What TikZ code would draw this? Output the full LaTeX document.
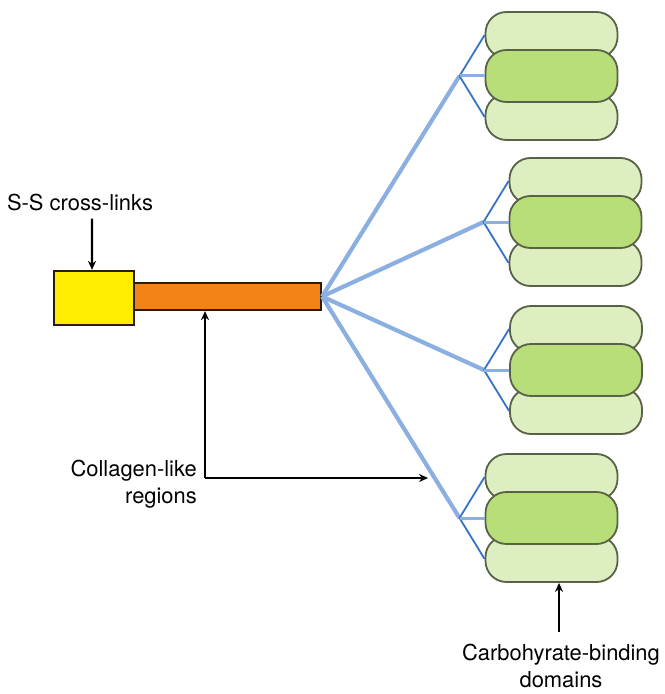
\documentclass[tikz,border=0pt]{standalone}
\usepackage{fontspec}
\setmainfont{TeX Gyre Heros}
\usetikzlibrary{arrows.meta,positioning}
\definecolor{ssyellow}{RGB}{255,236,0}
\definecolor{colorange}{RGB}{242,131,22}
\definecolor{boxrim}{RGB}{40,30,15}
\definecolor{pilllight}{RGB}{221,238,192}
\definecolor{pilldark}{RGB}{184,222,122}
\definecolor{pillrim}{RGB}{88,98,70}
\definecolor{stalkblue}{RGB}{140,175,225}
\definecolor{branchblue}{RGB}{55,115,195}

\begin{document}
\begin{tikzpicture}[
  x=1bp, y=-1bp,
  lbl/.style={font=\fontsize{22}{27}\selectfont, inner sep=0pt, align=center},
  ssbox/.style={draw=boxrim, line width=2.2bp, fill=ssyellow, minimum width=80bp, minimum height=54bp, inner sep=0pt},
  barbox/.style={draw=boxrim, line width=2.2bp, fill=colorange, minimum width=187bp, minimum height=27bp, inner sep=0pt},
  pill/.style={draw=pillrim, line width=1.8bp, rounded corners=21bp, minimum width=132bp, minimum height=46bp, inner sep=0pt, fill=pilllight},
  midpill/.style={pill, fill=pilldark, minimum height=52bp},
  stalk/.style={stalkblue, line width=4.2bp},
  branch/.style={branchblue, line width=1.8bp},
  arr/.style={-{Stealth[length=9bp, width=8bp]}, line width=2.4bp},
]
\useasboundingbox (0,0) rectangle (665,694);

% core of the molecule
\node[barbox] (bar) at (227.5,296.5) {};
\node[ssbox] (ss) at (94,298) {};

% four heads, three domains each
\foreach \n/\x/\y in {1/551.5/76, 2/575.5/222, 3/576/370, 4/551.5/518} {
  \coordinate (jn\n) at (\x-92,\y);
  \node[pill] (top\n) at (\x,\y-41) {};
  \node[pill] (bot\n) at (\x,\y+41) {};
  \node[midpill] (mid\n) at (\x,\y) {};
}
\foreach \n in {1,...,4} {
  \draw[stalk] (bar.east) -- (jn\n);
  \draw[branch] (jn\n) -- (top\n.west);
  \draw[branch] (jn\n) -- (bot\n.west);
  \draw[stalk, line width=3bp] (jn\n) -- (mid\n.west);
}

% labels
\node[lbl] (sslbl) at (80,203) {S-S cross-links};
\draw[arr] ([xshift=12bp, yshift=-7bp]sslbl.south) -- ([xshift=-2bp]ss.north);

\node[lbl, align=right, anchor=east] (cllbl) at (197,484) {Collagen-like\\regions};
\coordinate (clbend) at (205,478);
\coordinate (cltip) at (428,478);
\draw[arr] (clbend) -- (clbend |- bar.south);
\draw[arr] (clbend) -- (cltip);

\node[lbl] (cbdlbl) at (561,666) {Carbohyrate-binding\\domains};
\draw[arr] ([xshift=-2bp, yshift=12bp]cbdlbl.north) -- ([xshift=-2bp]cbdlbl.north |- bot4.south);
\end{tikzpicture}
\end{document}
